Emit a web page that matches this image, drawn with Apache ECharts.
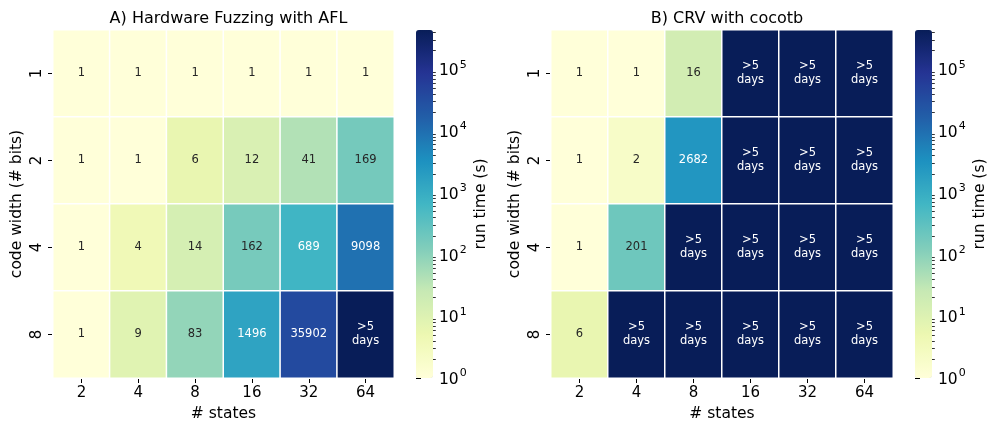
<!DOCTYPE html>
<html>
<head>
<meta charset="utf-8">
<script src="https://cdn.jsdelivr.net/npm/echarts@6/dist/echarts.min.js"></script>
<style>
html,body{margin:0;padding:0;background:#fff;}
#chart{width:1008px;height:432px;}
</style>
</head>
<body>
<div id="chart"></div>
<script>
// ---------- data ----------
const states = ['2', '4', '8', '16', '32', '64'];
const codeWidths = ['1', '2', '4', '8'];
const TIMEOUT = 432000; // ">5 days" (5 days in seconds)

// A) Hardware Fuzzing with AFL, run time (s), one array per code width
const aflW1 = [1, 1, 1, 1, 1, 1];
const aflW2 = [1, 1, 6, 12, 41, 169];
const aflW4 = [1, 4, 14, 162, 689, 9098];
const aflW8 = [1, 9, 83, 1496, 35902, TIMEOUT];

// B) CRV with cocotb, run time (s)
const crvW1 = [1, 1, 16, TIMEOUT, TIMEOUT, TIMEOUT];
const crvW2 = [1, 2, 2682, TIMEOUT, TIMEOUT, TIMEOUT];
const crvW4 = [1, 201, TIMEOUT, TIMEOUT, TIMEOUT, TIMEOUT];
const crvW8 = [6, TIMEOUT, TIMEOUT, TIMEOUT, TIMEOUT, TIMEOUT];

const cbMajorExp = [0, 1, 2, 3, 4, 5];

// ---------- styling ----------
const YLGNBU = ['#ffffd9', '#edf8b1', '#c7e9b4', '#7fcdbb', '#41b6c4', '#1d91c0', '#225ea8', '#253494', '#081d58'];
const FONT = 'DejaVu Sans';
const LOGMAX = Math.log10(TIMEOUT);
const L = { top: 30, h: 348, hm1x: 53, hm1w: 341, hm2x: 551, hm2w: 342, cb1x: 416, cb2x: 915, cbw: 17 };

function cells(rows) {
  const out = [];
  rows.forEach((row, r) => {
    row.forEach((v, c) => {
      const lv = Math.log10(v);
      out.push({
        value: [c, r, lv],
        raw: v,
        label: { color: lv > 2.6 ? '#ffffff' : '#262626' }
      });
    });
  });
  return out;
}

const aflData = cells([aflW1, aflW2, aflW4, aflW8]);
const crvData = cells([crvW1, crvW2, crvW4, crvW8]);

const minorVals = [];
cbMajorExp.forEach(e => {
  for (let k = 2; k <= 9; k++) {
    const lv = Math.log10(k * Math.pow(10, e));
    if (lv <= LOGMAX) minorVals.push(lv);
  }
});

function hmX(gi) {
  return {
    type: 'category', gridIndex: gi, data: states, position: 'bottom',
    name: '# states', nameLocation: 'middle', nameGap: 28,
    nameTextStyle: { fontFamily: FONT, fontSize: 15.5, color: '#000' },
    axisLine: { show: false },
    axisTick: { show: true, alignWithLabel: true, length: 5, lineStyle: { color: '#000', width: 1 } },
    axisLabel: { fontFamily: FONT, fontSize: 15, color: '#000', margin: 8 },
    splitLine: { show: false }, splitArea: { show: false }
  };
}
function hmY(gi) {
  return {
    type: 'category', gridIndex: gi, data: codeWidths, inverse: true, position: 'left',
    name: 'code width (# bits)', nameLocation: 'middle', nameGap: 28, nameRotate: 90,
    nameTextStyle: { fontFamily: FONT, fontSize: 15.5, color: '#000' },
    axisLine: { show: false },
    axisTick: { show: true, alignWithLabel: true, length: 5, lineStyle: { color: '#000', width: 1 } },
    axisLabel: { fontFamily: FONT, fontSize: 15, color: '#000', rotate: 90, margin: 8 },
    splitLine: { show: false }, splitArea: { show: false }
  };
}
function cbMajor(gi) {
  return {
    type: 'value', gridIndex: gi, min: 0, max: LOGMAX, position: 'right',
    name: 'run time (s)', nameLocation: 'middle', nameGap: 40, nameRotate: 90,
    nameTextStyle: { fontFamily: FONT, fontSize: 15.5, color: '#000' },
    axisLine: { show: false },
    axisTick: { show: true, length: 5, customValues: cbMajorExp, lineStyle: { color: '#000', width: 1 } },
    axisLabel: {
      fontFamily: FONT, fontSize: 15, color: '#000', margin: 6, customValues: cbMajorExp,
      formatter: v => '{b|10}{s|' + Math.round(v) + '}',
      rich: {
        b: { fontFamily: FONT, fontSize: 15.5, color: '#000', lineHeight: 20, verticalAlign: 'bottom', padding: [4, 0, 0, 0] },
        s: { fontFamily: FONT, fontSize: 11, color: '#000', lineHeight: 20, verticalAlign: 'top', padding: [0, 0, 0, 1] }
      }
    },
    splitLine: { show: false }
  };
}
function cbMinor(gi) {
  return {
    type: 'value', gridIndex: gi, min: 0, max: LOGMAX, position: 'right',
    axisLine: { show: false },
    axisTick: { show: true, length: 2.8, customValues: minorVals, lineStyle: { color: '#000', width: 0.8 } },
    axisLabel: { show: false },
    splitLine: { show: false }
  };
}
function hiddenX(gi) {
  return { type: 'value', gridIndex: gi, show: false, min: 0, max: 1 };
}

const labelCommon = {
  show: true, fontFamily: FONT, fontSize: 11.5, lineHeight: 14,
  formatter: p => (p.data.raw >= TIMEOUT ? '>5\ndays' : String(p.data.raw))
};

function vm(si, x) {
  return {
    type: 'continuous', seriesIndex: si, dimension: 2, min: 0, max: LOGMAX,
    inRange: { color: YLGNBU }, show: true, calculable: false, hoverLink: false,
    text: null, showLabel: false, padding: 0, orient: 'vertical',
    itemWidth: L.cbw, itemHeight: L.h, left: x, top: L.top
  };
}

const option = {
  backgroundColor: '#fff',
  animation: false,
  title: [
    { text: 'A) Hardware Fuzzing with AFL', left: L.hm1x + L.hm1w / 2, top: 6, textAlign: 'center',
      textStyle: { fontFamily: FONT, fontSize: 16, fontWeight: 'normal', color: '#000' } },
    { text: 'B) CRV with cocotb', left: L.hm2x + L.hm2w / 2, top: 6, textAlign: 'center',
      textStyle: { fontFamily: FONT, fontSize: 16, fontWeight: 'normal', color: '#000' } }
  ],
  grid: [
    { left: L.hm1x, top: L.top, width: L.hm1w, height: L.h },
    { left: L.hm2x, top: L.top, width: L.hm2w, height: L.h },
    { left: L.cb1x, top: L.top, width: L.cbw, height: L.h },
    { left: L.cb2x, top: L.top, width: L.cbw, height: L.h }
  ],
  xAxis: [hmX(0), hmX(1), hiddenX(2), hiddenX(3)],
  yAxis: [hmY(0), hmY(1), cbMajor(2), cbMinor(2), cbMajor(3), cbMinor(3)],
  visualMap: [vm(0, L.cb1x), vm(1, L.cb2x)],
  series: [
    { type: 'heatmap', xAxisIndex: 0, yAxisIndex: 0, data: aflData, label: labelCommon,
      itemStyle: { borderColor: '#fff', borderWidth: 1.5 }, emphasis: { disabled: true } },
    { type: 'heatmap', xAxisIndex: 1, yAxisIndex: 1, data: crvData, label: labelCommon,
      itemStyle: { borderColor: '#fff', borderWidth: 1.5 }, emphasis: { disabled: true } }
  ]
};

const chart = echarts.init(document.getElementById('chart'), null, { renderer: 'canvas' });
chart.setOption(option);
</script>
</body>
</html>
